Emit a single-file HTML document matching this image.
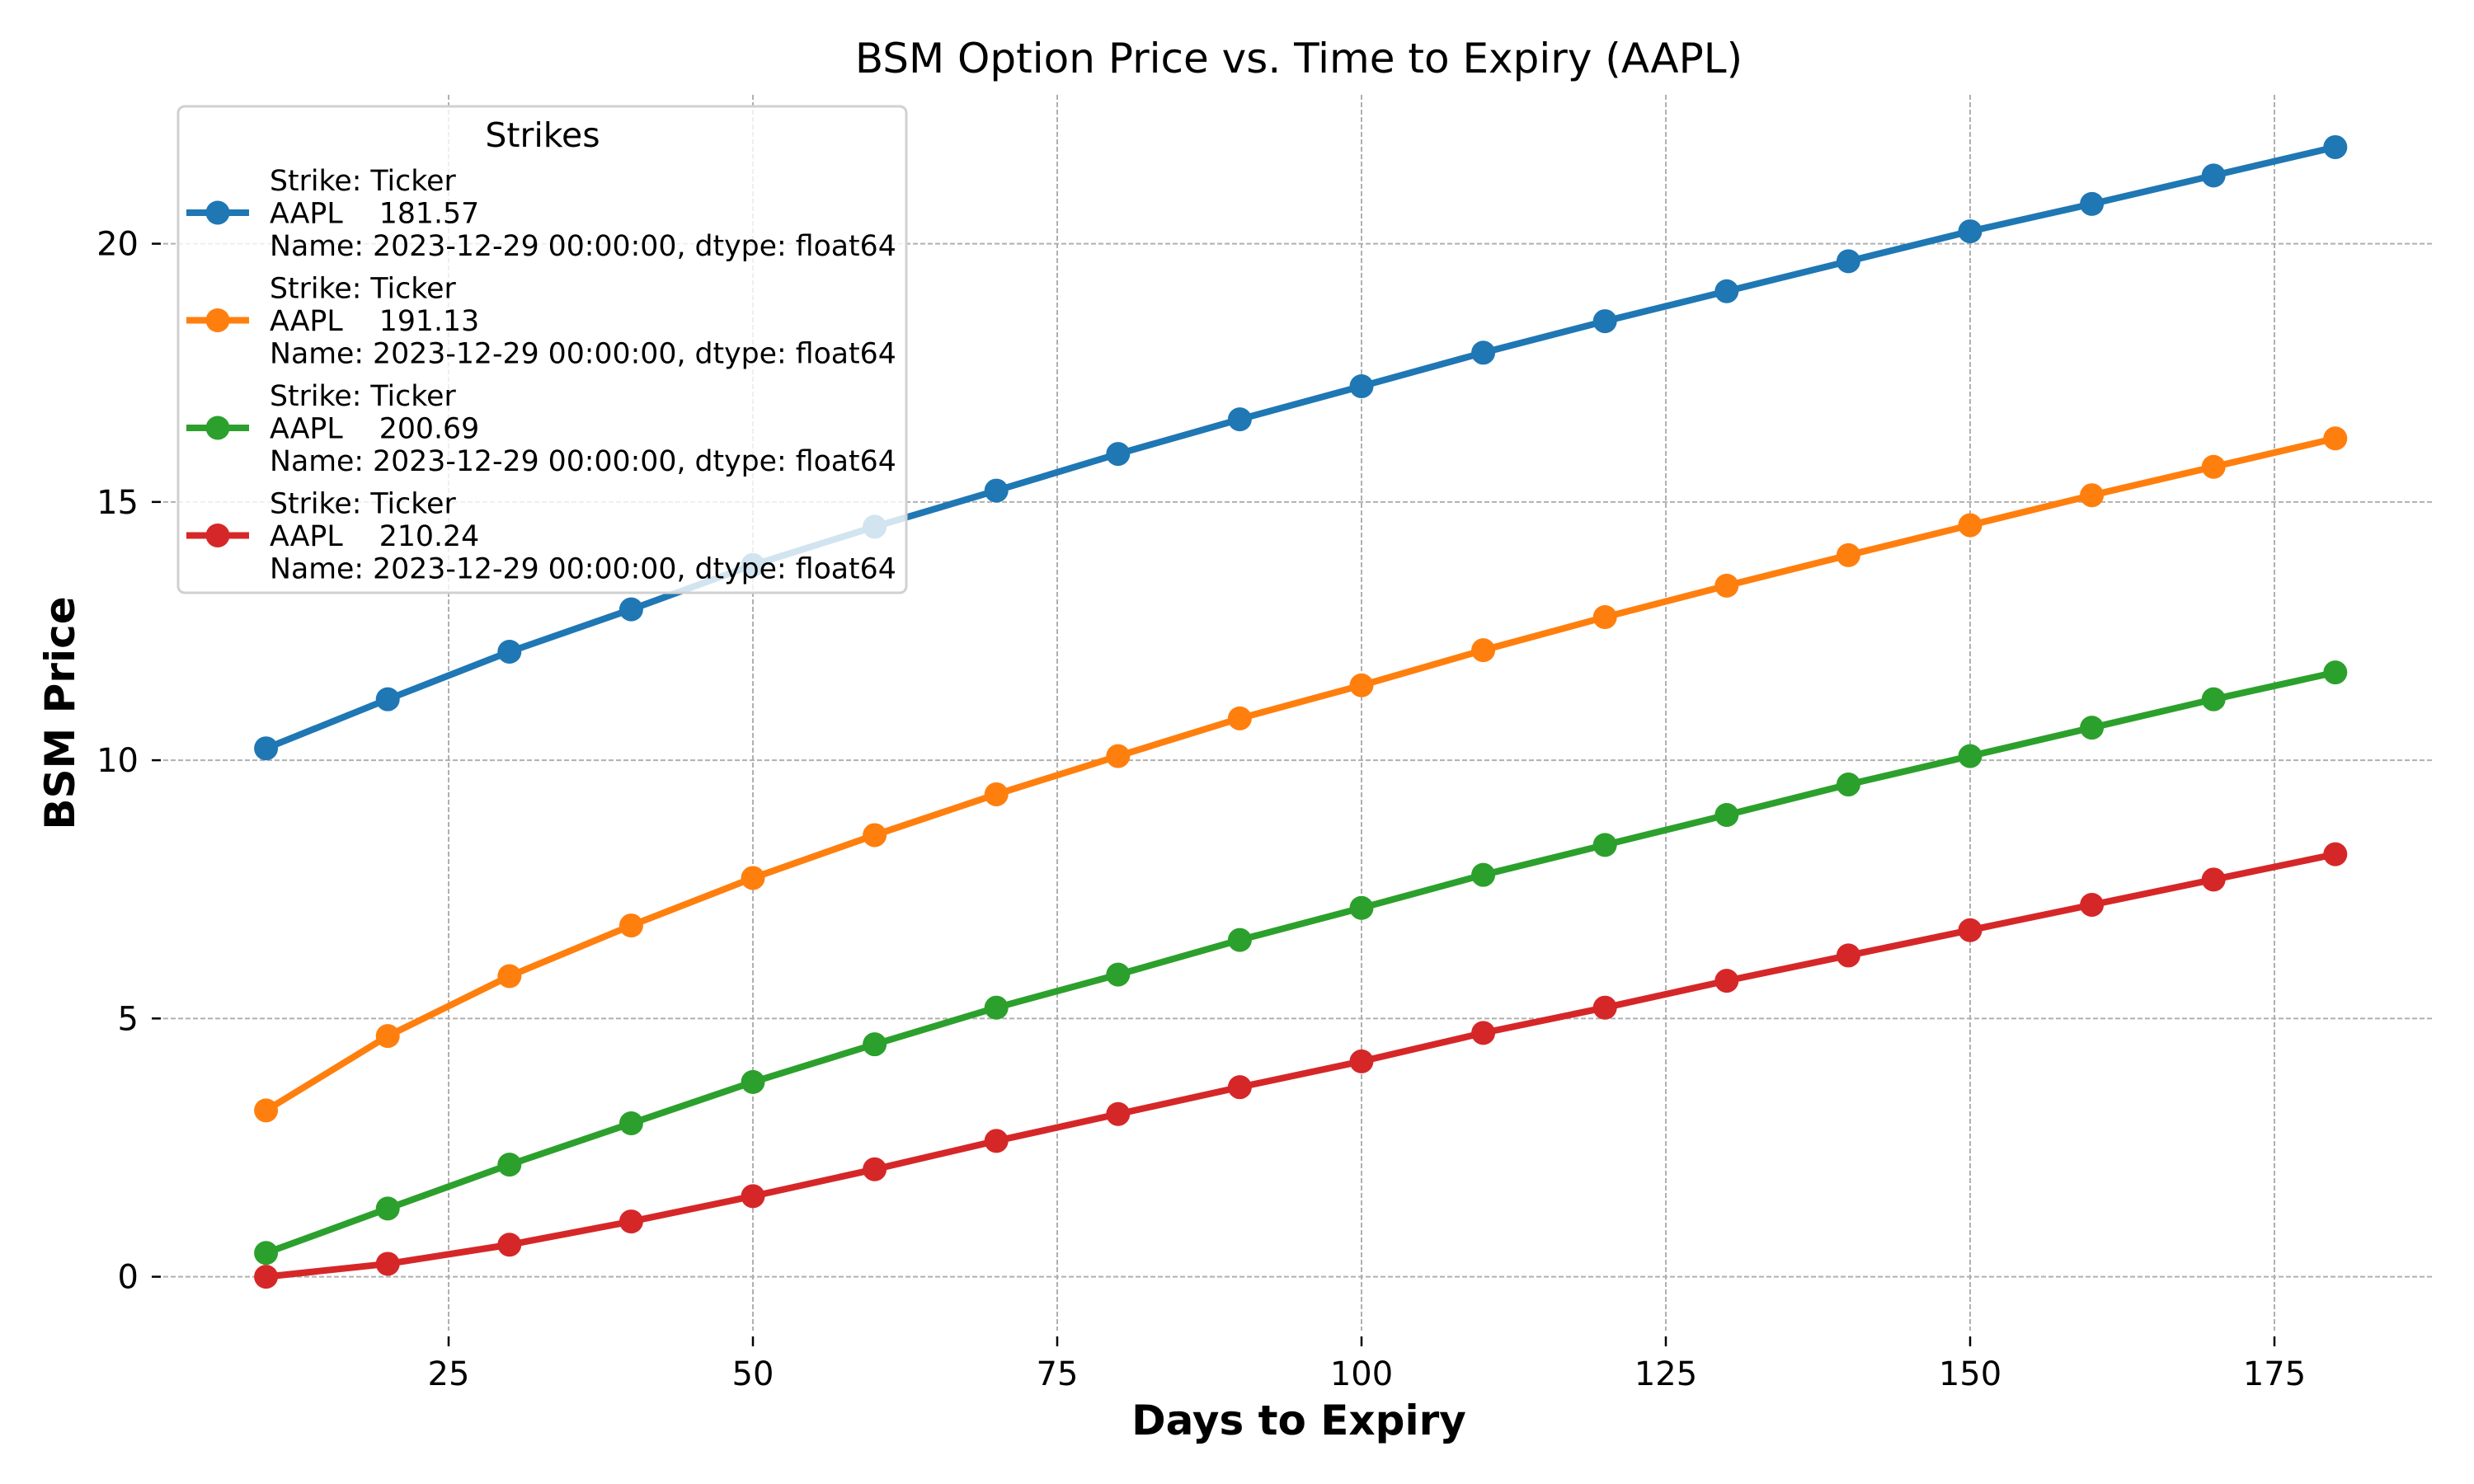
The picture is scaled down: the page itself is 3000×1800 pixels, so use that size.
<!DOCTYPE html>
<html><head><meta charset="utf-8"><style>
html,body{margin:0;padding:0;background:#fff}
svg{display:block;font-family:"DejaVu Sans","Liberation Sans",sans-serif}
</style></head><body>
<svg id="chart" width="3000" height="1800" viewBox="0 0 3000 1800" xmlns="http://www.w3.org/2000/svg">
<rect width="3000" height="1800" fill="#fff"/>
<g id="grid"></g>
<g id="ticks"></g>
<g id="series"></g>
<g id="legend"></g>
<text x="1575" y="88" text-anchor="middle" font-size="50">BSM Option Price vs. Time to Expiry (AAPL)</text>
<text x="1575" y="1740" text-anchor="middle" font-size="50" font-weight="bold">Days to Expiry</text>
<text x="90" y="865" text-anchor="middle" font-size="50" font-weight="bold" transform="rotate(-90 90 865)">BSM Price</text>
</svg>
<script>
const days = [10,20,30,40,50,60,70,80,90,100,110,120,130,140,150,160,170,180];
const blueValues = [10.23,11.18,12.10,12.92,13.78,14.52,15.22,15.93,16.60,17.24,17.89,18.50,19.08,19.66,20.24,20.77,21.32,21.87];
const orangeValues = [3.22,4.66,5.82,6.80,7.72,8.55,9.34,10.08,10.81,11.45,12.13,12.77,13.38,13.97,14.55,15.13,15.68,16.23];
const greenValues = [0.46,1.32,2.17,2.97,3.77,4.50,5.21,5.85,6.52,7.14,7.78,8.36,8.94,9.53,10.08,10.63,11.18,11.70];
const redValues = [0.0,0.25,0.62,1.07,1.56,2.08,2.63,3.15,3.67,4.17,4.72,5.21,5.73,6.22,6.71,7.20,7.69,8.18];
const strikeLabels = ["181.57","191.13","200.69","210.24"];
const xTicks = [25,50,75,100,125,150,175];
const yTicks = [0,5,10,15,20];

const NS = "http://www.w3.org/2000/svg";
const X0 = 175, XS = 14.76, Y0 = 1548.6, YS = 62.65;
const xAxis = v => X0 + v * XS;
const yAxis = v => Y0 - v * YS;
const PL = 198, PR = 2952, PT = 115, PB = 1614;

function mk(tag, attrs, parent) {
  const e = document.createElementNS(NS, tag);
  for (const k in attrs) e.setAttribute(k, attrs[k]);
  parent.appendChild(e);
  return e;
}
const grid = document.getElementById('grid');
const ticks = document.getElementById('ticks');
xTicks.forEach(t => {
  const x = xAxis(t);
  const g = mk('line', {x1:x, x2:x, y1:PT, y2:PB, stroke:'#b0b0b0', 'stroke-width':2, 'stroke-dasharray':'6,3'}, grid);
  
  
  const tk = mk('line', {x1:x, x2:x, y1:1621, y2:1633, stroke:'#000', 'stroke-width':2.5}, ticks);
  
  
  const tl = mk('text', {x:x, y:1680, 'text-anchor':'middle', 'font-size':40}, ticks);
  tl.textContent = t;
  
  
});
yTicks.forEach(t => {
  const y = yAxis(t);
  const g = mk('line', {x1:PL, x2:PR, y1:y, y2:y, stroke:'#b0b0b0', 'stroke-width':2, 'stroke-dasharray':'6,3'}, grid);
  
  
  const tk = mk('line', {x1:184, x2:195, y1:y, y2:y, stroke:'#000', 'stroke-width':2.5}, ticks);
  
  
  const tl = mk('text', {x:168, y:y+14, 'text-anchor':'end', 'font-size':40}, ticks);
  tl.textContent = t;
  
  
});

const seriesList = [
  {name:'blue', color:'#1f77b4', vals:blueValues},
  {name:'orange', color:'#ff7f0e', vals:orangeValues},
  {name:'green', color:'#2ca02c', vals:greenValues},
  {name:'red', color:'#d62728', vals:redValues}
];
const sg = document.getElementById('series');
seriesList.forEach(s => {
  const g = mk('g', {}, sg);
  
  
  const pts = days.map((d,i) => xAxis(d) + ',' + yAxis(s.vals[i])).join(' ');
  const pl = mk('polyline', {points:pts, fill:'none', stroke:s.color, 'stroke-width':8, 'stroke-linejoin':'round'}, g);
  
  
  days.forEach((d,i) => {
    const c = mk('circle', {cx:xAxis(d), cy:yAxis(s.vals[i]), r:14.5, fill:s.color}, g);
    
    
  });
});

const lg = document.getElementById('legend');
const box = mk('rect', {x:216, y:129, width:883, height:590, rx:8, fill:'#fff', 'fill-opacity':0.8, stroke:'#d0d0d0', 'stroke-width':3}, lg);


const lt = mk('text', {x:658, y:178, 'text-anchor':'middle', 'font-size':41}, lg);
lt.textContent = 'Strikes';


seriesList.forEach((s,k) => {
  const cy = 218 + 130.5*k;
  const e = mk('g', {}, lg);
  
  
  mk('line', {x1:226, x2:302, y1:cy+40, y2:cy+40, stroke:s.color, 'stroke-width':8}, e);
  mk('circle', {cx:264, cy:cy+40, r:14.5, fill:s.color}, e);
  const lines = ['Strike: Ticker', 'AAPL    ' + strikeLabels[k], 'Name: 2023-12-29 00:00:00, dtype: float64'];
  lines.forEach((t,j) => {
    const tx = mk('text', {x:327, y:cy + 39.5*j + 13, 'font-size':34.7}, e);
    tx.setAttribute('style', 'white-space:pre');
    tx.textContent = t;
  });
});
</script>
</body></html>
